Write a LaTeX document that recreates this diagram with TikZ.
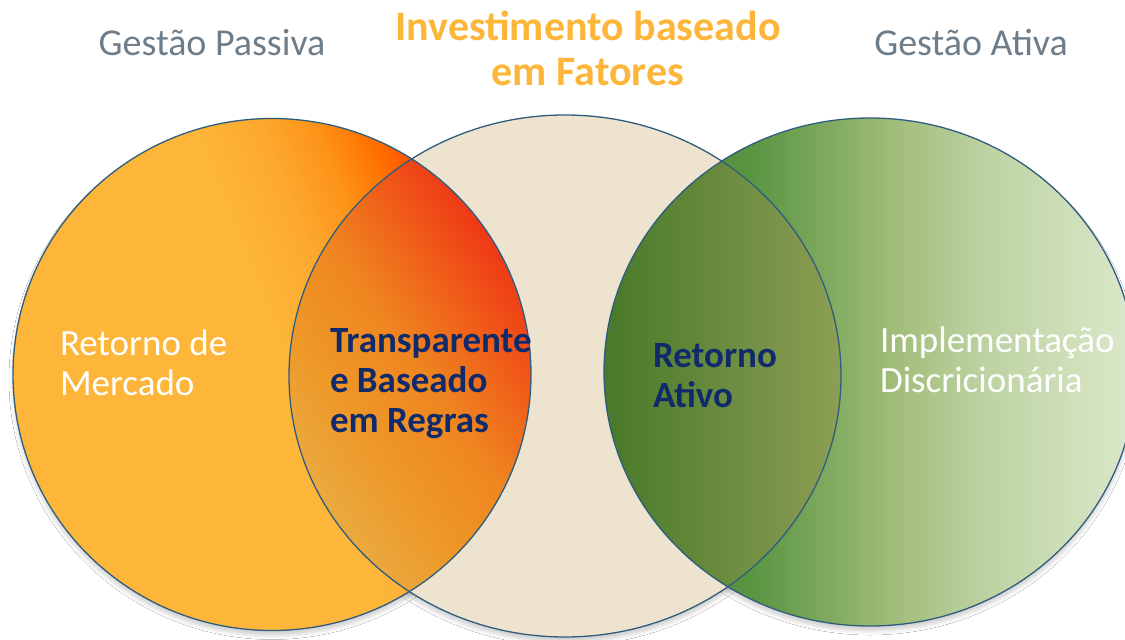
\documentclass[tikz,border=0pt]{standalone}
\usepackage{fontspec}
\setmainfont{Carlito}
\usetikzlibrary{shadows.blur}
\definecolor{Lyel}{HTML}{FDB63A}
\definecolor{Lora0}{HTML}{FDA82E}
\definecolor{Lora1}{HTML}{FE9218}
\definecolor{Lora2}{HTML}{FF7400}
\definecolor{Lred}{HTML}{FF3A00}
\definecolor{Rg1}{HTML}{4A8830}
\definecolor{Rg2}{HTML}{5A9542}
\definecolor{Rg3}{HTML}{A0BC78}
\definecolor{Rg4}{HTML}{BDD3A3}
\definecolor{Rg5}{HTML}{D5E4C2}
\definecolor{Rg6}{HTML}{DCE8CC}
\definecolor{Ly1}{HTML}{E8B048}
\definecolor{Ly2}{HTML}{EE9828}
\definecolor{Ly3}{HTML}{EF8520}
\definecolor{Ly4}{HTML}{F05A18}
\definecolor{Ly5}{HTML}{EE2A14}
\definecolor{Gl1}{HTML}{477828}
\definecolor{Gl2}{HTML}{8E9F55}
\definecolor{beige}{HTML}{EDE3CE}
\definecolor{edgeblue}{HTML}{2F5D7E}
\definecolor{graytext}{HTML}{6E7D8A}
\definecolor{titleorange}{HTML}{FDB63A}
\definecolor{navytext}{HTML}{0F2B6B}
\pgfdeclarehorizontalshading{leftcirc}{100bp}{color(0bp)=(Lyel); color(25bp)=(Lyel); color(52bp)=(Lyel); color(58bp)=(Lora0); color(63bp)=(Lora1); color(67bp)=(Lora2); color(73bp)=(Lred); color(100bp)=(Lred)}
\pgfdeclarehorizontalshading{rightcirc}{100bp}{color(0bp)=(Rg1); color(25bp)=(Rg1); color(39bp)=(Rg2); color(52bp)=(Rg3); color(61bp)=(Rg4); color(72bp)=(Rg5); color(75bp)=(Rg6); color(100bp)=(Rg6)}
\pgfdeclarehorizontalshading{leftlens}{100bp}{color(0bp)=(Ly1); color(25bp)=(Ly1); color(40bp)=(Ly2); color(52bp)=(Ly3); color(63bp)=(Ly4); color(75bp)=(Ly5); color(100bp)=(Ly5)}
\pgfdeclarehorizontalshading{rightlens}{100bp}{color(0bp)=(Gl1); color(25bp)=(Gl1); color(75bp)=(Gl2); color(100bp)=(Gl2)}
\begin{document}
\begin{tikzpicture}[x=1pt,y=-1pt,
  outline/.style={draw=edgeblue, line width=1.3pt},
  softshadow/.style={blur shadow={shadow xshift=0pt, shadow yshift=-5pt, shadow blur radius=4pt, shadow opacity=18}},
  lbl/.style={inner sep=0pt, outer sep=0pt},
  graylbl/.style={lbl, text=graytext, font={\fontsize{38}{40}\selectfont}},
  titlelbl/.style={lbl, text=titleorange, align=center, font={\bfseries\fontsize{42}{45}\selectfont}},
  whitelbl/.style={lbl, text=white, align=left, font={\fontsize{37}{40}\selectfont}},
  navylbl/.style={lbl, text=navytext, align=left, font={\bfseries\fontsize{37}{40}\selectfont}}]
\useasboundingbox (0,0) rectangle (1125,640);
\fill[white] (0,0) rectangle (1125,640);
\coordinate (CL) at (272,374.5);
\coordinate (CM) at (565,376);
\coordinate (CR) at (870,372);
% shadows
\path[softshadow] (CL) ellipse [x radius=259pt, y radius=256pt];
\path[softshadow] (CM) ellipse [x radius=276pt, y radius=261pt];
\path[softshadow] (CR) ellipse [x radius=266pt, y radius=254pt];
% fills
\shade[shading=leftcirc, shading angle=22] (CL) ellipse [x radius=259pt, y radius=256pt];
\shade[shading=rightcirc] (CR) ellipse [x radius=266pt, y radius=254pt];
\fill[beige] (CM) ellipse [x radius=276pt, y radius=261pt];
% left lens
\begin{scope}
  \clip (CL) ellipse [x radius=259pt, y radius=256pt];
  \clip (CM) ellipse [x radius=276pt, y radius=261pt];
  \shade[shading=leftlens, shading angle=35] (285,140) rectangle (535,615);
\end{scope}
% right lens
\begin{scope}
  \clip (CR) ellipse [x radius=266pt, y radius=254pt];
  \clip (CM) ellipse [x radius=276pt, y radius=261pt];
  \shade[shading=rightlens] (600,110) rectangle (845,640);
\end{scope}
% outlines
\draw[outline] (CL) ellipse [x radius=259pt, y radius=256pt];
\draw[outline] (CM) ellipse [x radius=276pt, y radius=261pt];
\draw[outline] (CR) ellipse [x radius=266pt, y radius=254pt];
% texts (base anchor = baseline of last line)
\node[graylbl, anchor=base] (tPassiva) at (212,55) {Gestão Passiva};
\node[titlelbl, anchor=base] (tTitle) at (588,85) {Investimento baseado\\em Fatores};
\node[graylbl, anchor=base] (tAtiva) at (971,55) {Gestão Ativa};
\node[whitelbl, anchor=base west] (tMercado) at (60,395) {Retorno de\\Mercado};
\node[navylbl, anchor=base west] (tRegras) at (330,432) {Transparente\\e Baseado\\em Regras};
\node[navylbl, anchor=base west] (tAtivo) at (653,407) {Retorno\\Ativo};
\node[whitelbl, anchor=base west] (tImpl) at (880,392) {Implementação\\Discricionária};
\end{tikzpicture}
\end{document}
